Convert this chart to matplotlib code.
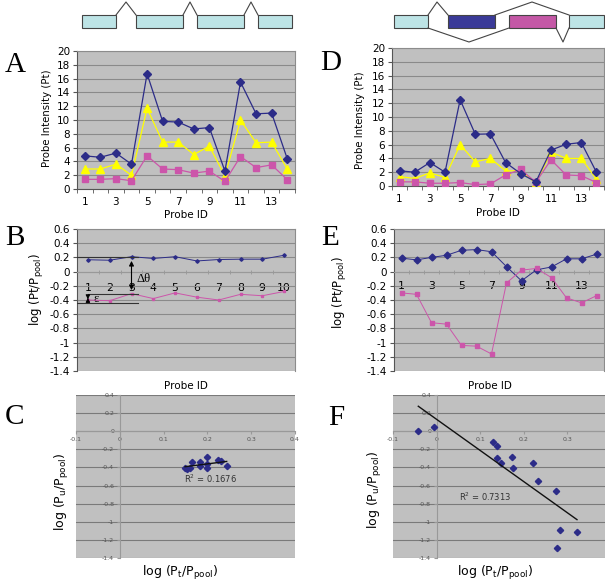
import numpy as np
import matplotlib
matplotlib.use('Agg')
import matplotlib.pyplot as plt
from matplotlib.patches import Rectangle

# --- dati ---
probes14 = np.arange(1, 15)
probes10 = np.arange(1, 11)

a_blue = [4.8, 4.6, 5.2, 3.6, 16.7, 9.8, 9.7, 8.7, 8.9, 2.6, 15.5, 10.9, 11.0, 4.4]
a_yellow = [2.9, 2.9, 3.6, 2.0, 11.7, 6.8, 6.8, 5.0, 6.2, 1.9, 10.0, 6.7, 6.8, 2.9]
a_pink = [1.4, 1.4, 1.5, 1.2, 4.8, 2.9, 2.8, 2.3, 2.6, 1.1, 4.7, 3.1, 3.5, 1.35]

d_blue = [2.2, 2.0, 3.4, 2.0, 12.5, 7.5, 7.55, 3.4, 1.8, 0.6, 5.2, 6.05, 6.3, 2.0]
d_yellow = [1.35, 1.1, 1.9, 1.25, 6.0, 3.5, 4.0, 2.2, 2.2, 0.4, 4.9, 4.0, 4.0, 1.0]
d_pink = [0.6, 0.6, 0.4, 0.4, 0.5, 0.2, 0.3, 1.6, 2.4, 0.55, 3.8, 1.6, 1.5, 0.5]

b_blue = [0.167, 0.16, 0.21, 0.185, 0.21, 0.15, 0.17, 0.175, 0.175, 0.23]
b_pink = [-0.40, -0.41, -0.31, -0.38, -0.30, -0.36, -0.40, -0.32, -0.34, -0.28]

e_blue = [0.19, 0.165, 0.20, 0.23, 0.30, 0.31, 0.28, 0.07, -0.13, 0.025, 0.065, 0.18, 0.18, 0.245]
e_pink = [-0.30, -0.32, -0.72, -0.74, -1.04, -1.05, -1.16, -0.16, 0.02, 0.045, -0.085, -0.37, -0.44, -0.34]

c_x = [0.149, 0.154, 0.161, 0.164, 0.182, 0.183, 0.199, 0.199, 0.200, 0.225, 0.231, 0.244]
c_y = [-0.407, -0.419, -0.411, -0.337, -0.344, -0.389, -0.289, -0.363, -0.404, -0.318, -0.326, -0.389]

f_x = [-0.042, -0.006, 0.129, 0.139, 0.139, 0.147, 0.173, 0.176, 0.221, 0.232, 0.273, 0.282, 0.322, 0.276]
f_y = [0.0, 0.048, -0.117, -0.165, -0.297, -0.352, -0.286, -0.407, -0.352, -0.547, -0.657, -1.09, -1.11, -1.295]

r2_c = '0.1676'
r2_f = '0.7313'

# schema dei geni (coordinate dello schema)
left_exons = [(82, 116), (136, 183), (197, 244), (258, 292)]
left_introns = [(116, 126, 136), (183, 190, 197), (244, 251, 258)]
right_exons = [(394, 428, 'c'), (448, 495, 'b'), (509, 556, 'm'), (569, 604, 'c')]
right_top = [(428, 437, 448), (495, 532, 569)]
right_bottom = [(428, 469, 509), (556, 563, 569)]

# --- stile ---
W, H = 605, 584
BG = '#c0c0c0'
GRID = '#8a8a8a'
NAVY = '#2c2c88'
PINK = '#cc55aa'
YEL = '#ffff00'
plt.rcParams['font.family'] = 'DejaVu Sans'

fig = plt.figure(figsize=(W / 100, H / 100), dpi=100)


def px_axes(l, t, r, b):
    return fig.add_axes([l / W, 1 - b / H, (r - l) / W, (b - t) / H])


def ftext(x, y, s, **kw):
    fig.text(x / W, 1 - y / H, s, **kw)


def fmt(v):
    return '%g' % (round(v, 2) + 0.0)


# --- schema in alto ---
top = fig.add_axes([0, 0, 1, 1])
top.set_xlim(0, W)
top.set_ylim(H, 0)
top.axis('off')
cols = {'c': '#bde4e6', 'b': '#3a3a98', 'm': '#c458a6'}
for x0, x1 in left_exons:
    top.add_patch(Rectangle((x0, 15), x1 - x0, 13, fc=cols['c'], ec='#444444', lw=0.8))
for x0, xp, x1 in left_introns:
    top.plot([x0, xp, x1], [15, 2, 15], color='#444444', lw=0.8)
for x0, x1, c in right_exons:
    top.add_patch(Rectangle((x0, 15), x1 - x0, 13, fc=cols[c], ec='#444444', lw=0.8))
for x0, xp, x1 in right_top:
    top.plot([x0, xp, x1], [15, 2, 15], color='#444444', lw=0.8)
for x0, xp, x1 in right_bottom:
    top.plot([x0, xp, x1], [28, 42, 28], color='#444444', lw=0.8)


# --- pannelli A e D ---
def intensity_panel(box, blue, yellow, pink, lab_x, lab_y):
    ax = px_axes(*box)
    ax.set_facecolor(BG)
    ax.plot(probes14, blue, color=NAVY, lw=0.9, marker='D', ms=4.5, mfc=NAVY, mec=NAVY, zorder=4)
    ax.plot(probes14, yellow, color=YEL, lw=0.9, marker='^', ms=5.5, mfc=YEL, mec=YEL, zorder=3)
    ax.plot(probes14, pink, color=PINK, lw=0.9, marker='s', ms=4.5, mfc=PINK, mec=PINK, zorder=3)
    ax.set_xlim(0.5, 14.5)
    ax.set_ylim(0, 20)
    ax.set_yticks(np.arange(0, 21, 2))
    ax.set_xticks(np.arange(1, 14, 2))
    ax.set_xticks(np.arange(0.5, 14.6, 1), minor=True)
    ax.tick_params(axis='x', which='major', length=0, pad=6, labelsize=7.5)
    ax.tick_params(axis='x', which='minor', length=3, color='#555555')
    ax.tick_params(axis='y', length=3, pad=2, labelsize=7.5, color='#555555')
    ax.yaxis.grid(True, color=GRID, lw=0.8)
    ax.set_axisbelow(True)
    for s in ax.spines.values():
        s.set_color('#8c8c8c')
        s.set_linewidth(0.8)
    ax.spines['left'].set_color('#555555')
    ax.spines['bottom'].set_color('#555555')
    ftext(lab_x, lab_y, 'Probe Intensity (Pt)', rotation=90, ha='center', va='center', fontsize=7.3)
    return ax


intensity_panel((77, 51, 295, 189), a_blue, a_yellow, a_pink, 47, 118)
intensity_panel((392, 48, 604, 186), d_blue, d_yellow, d_pink, 360, 120)
ftext(186, 215, 'Probe ID', ha='center', va='center', fontsize=7.5)
ftext(498, 213, 'Probe ID', ha='center', va='center', fontsize=7.5)


# --- pannelli B ed E ---
def ratio_panel(box, x, blue, pink, ms, labels, pad):
    ax = px_axes(*box)
    ax.set_facecolor(BG)
    n = len(x)
    ax.plot(x, blue, color=NAVY, lw=0.7, marker='D', ms=ms, mfc=NAVY, mec=NAVY, zorder=4)
    ax.plot(x, pink, color=PINK, lw=0.7, marker='s', ms=ms, mfc=PINK, mec=PINK, zorder=4)
    ax.set_xlim(0.5, n + 0.5)
    ax.set_ylim(-1.4, 0.6)
    yt = np.round(np.arange(-1.4, 0.61, 0.2), 2)
    ax.set_yticks(yt)
    ax.set_yticklabels([fmt(v) for v in yt])
    ax.set_xticks(labels)
    ax.set_xticks(np.arange(0.5, n + 0.6, 1), minor=True)
    ax.spines['bottom'].set_position(('data', 0))
    ax.spines['bottom'].set_color('#999999')
    ax.tick_params(axis='x', which='major', length=0, pad=pad, labelsize=7.8)
    ax.tick_params(axis='x', which='minor', length=3, direction='inout', color='#999999')
    ax.tick_params(axis='y', length=3, pad=2, labelsize=7.5, color='#555555')
    ax.yaxis.grid(True, color=GRID, lw=0.8)
    ax.set_axisbelow(True)
    for s in ['top', 'right']:
        ax.spines[s].set_color('#8c8c8c')
    ax.spines['left'].set_color('#555555')
    return ax


axb = ratio_panel((77, 229, 295, 371), probes10, b_blue, b_pink, 1.8, probes10, 8)
axe = ratio_panel((394, 229, 604, 371), probes14, e_blue, e_pink, 3.5, np.arange(1, 14, 2), 7)
ftext(37, 290, 'log (Pt/P$_{\\mathrm{pool}}$)', rotation=90, ha='center', va='center', fontsize=8.5)
ftext(340, 293, 'log (Pt/P$_{\\mathrm{pool}}$)', rotation=90, ha='center', va='center', fontsize=8.5)
ftext(186, 386, 'Probe ID', ha='center', va='center', fontsize=7.5)
ftext(490, 386, 'Probe ID', ha='center', va='center', fontsize=7.5)

# annotazioni Δθ ed ε nel pannello B
axb.plot([0.5, 3.3], [0.2, 0.2], color='#333333', lw=0.8, zorder=5)
axb.plot([1.0, 3.3], [-0.316, -0.316], color='#333333', lw=0.8, zorder=5)
axb.plot([0.5, 3.3], [-0.44, -0.44], color='#333333', lw=0.8, zorder=5)
axb.annotate('', xy=(3.0, 0.19), xytext=(3.0, -0.3),
             arrowprops=dict(arrowstyle='<|-|>', color='black', lw=0.8, mutation_scale=7), zorder=6)
axb.annotate('', xy=(1.0, -0.33), xytext=(1.0, -0.43),
             arrowprops=dict(arrowstyle='<|-|>', color='black', lw=0.8, mutation_scale=6), zorder=6)
axb.text(3.25, -0.11, 'Δθ', family='Liberation Serif', fontsize=9, va='center', ha='left')
axb.text(1.25, -0.38, 'ε', family='Liberation Serif', fontsize=9, va='center', ha='left')


# --- pannelli C ed F ---
def scatter_panel(box, x, y, r2, r2x, r2y):
    ax = px_axes(*box)
    ax.set_facecolor(BG)
    ax.set_xlim(-0.1, 0.4)
    ax.set_ylim(-1.4, 0.4)
    ax.plot(x, y, 'D', color=NAVY, ms=3.2, zorder=4)
    k, q = np.polyfit(x, y, 1)
    xx = np.array([min(x), max(x)])
    ax.plot(xx, k * xx + q, color='#111111', lw=1.0, zorder=5)
    yt = np.round(np.arange(-1.4, 0.41, 0.2), 2)
    ax.set_yticks(yt)
    ax.set_yticklabels([fmt(v) for v in yt])
    xt = np.round(np.arange(-0.1, 0.41, 0.1), 2)
    ax.set_xticks(xt)
    ax.set_xticklabels([fmt(v) for v in xt])
    ax.spines['left'].set_position(('data', 0))
    ax.spines['bottom'].set_position(('data', 0))
    for s in ['top', 'right']:
        ax.spines[s].set_visible(False)
    for s in ['left', 'bottom']:
        ax.spines[s].set_color('#999999')
        ax.spines[s].set_linewidth(0.8)
    ax.tick_params(length=2, pad=2, labelsize=4.5, labelcolor='#555555', color='#999999')
    ax.yaxis.grid(True, color='#7a7a7a', lw=0.8)
    ax.set_axisbelow(True)
    ax.text(r2x, r2y, 'R$^2$ = ' + r2, fontsize=6, color='#333333', ha='center', va='center')
    return ax


scatter_panel((76, 395, 295, 558), c_x, c_y, r2_c, 0.206, -0.53)
scatter_panel((393, 395, 611, 558), f_x, f_y, r2_f, 0.111, -0.72)
ftext(62, 492, 'log (P$_{\\mathrm{u}}$/P$_{\\mathrm{pool}}$)', rotation=90, ha='center', va='center', fontsize=9)
ftext(375, 490, 'log (P$_{\\mathrm{u}}$/P$_{\\mathrm{pool}}$)', rotation=90, ha='center', va='center', fontsize=9)
ftext(180, 573, 'log (P$_{\\mathrm{t}}$/P$_{\\mathrm{pool}}$)', ha='center', va='center', fontsize=9)
ftext(495, 573, 'log (P$_{\\mathrm{t}}$/P$_{\\mathrm{pool}}$)', ha='center', va='center', fontsize=9)

# lettere dei pannelli
for s, x, y in [('A', 15, 65), ('B', 15, 238), ('C', 14, 417),
                ('D', 331, 63), ('E', 330, 238), ('F', 336, 418)]:
    ftext(x, y, s, family='Liberation Serif', fontsize=21, ha='center', va='center')

fig.savefig('out.png', dpi=100)
